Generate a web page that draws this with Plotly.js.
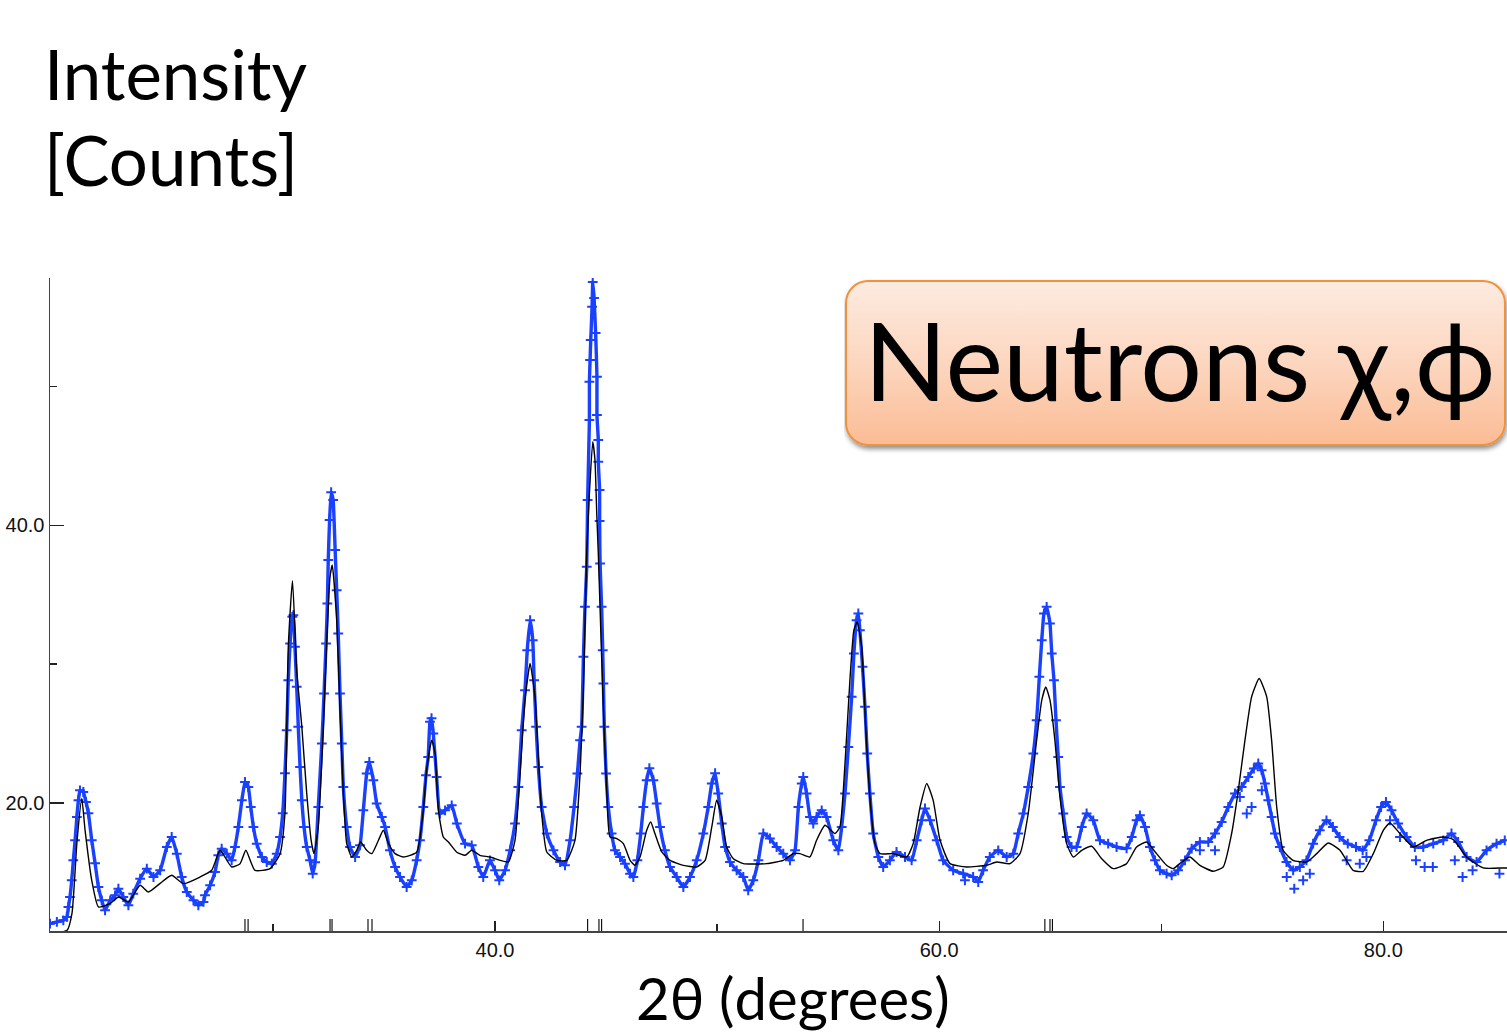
<!DOCTYPE html>
<html>
<head>
<meta charset="utf-8">
<script src="https://cdn.plot.ly/plotly-3.0.1.min.js"></script>
<style>html,body{margin:0;padding:0;background:#fff;}#chart{width:1507px;height:1034px;}</style>
</head>
<body>
<div id="chart"></div>
<script>
// Calculated profile (black line): 2theta (deg), intensity (counts)
const calcX = [20.05,20.73,20.95,21.18,21.39,21.54,21.84,22.14,22.67,23.04,23.49,24.02,24.39,24.92,25.44,25.97,26.72,27.24,27.62,28.14,28.52,28.78,29.19,29.87,30.32,30.54,30.69,30.88,31.07,31.30,31.52,31.72,31.85,32.04,32.27,32.42,32.57,32.67,32.87,33.02,33.17,33.32,33.55,33.77,33.95,34.22,34.45,34.75,34.97,35.20,35.50,35.87,36.47,36.77,36.92,37.15,37.30,37.45,37.67,37.90,38.28,38.65,38.95,39.32,39.77,40.23,40.60,40.90,41.13,41.35,41.58,41.80,41.95,42.10,42.33,42.78,43.23,43.60,43.83,43.98,44.13,44.25,44.40,44.50,44.58,44.65,44.80,44.91,45.03,45.18,45.48,45.78,46.08,46.30,46.53,46.83,47.01,47.20,47.51,47.88,48.48,49.08,49.46,49.76,49.98,50.21,50.43,50.73,51.18,52.23,52.98,53.43,53.73,54.18,54.48,54.86,55.31,55.53,55.76,55.98,56.16,56.31,56.51,56.70,56.88,57.11,57.34,57.93,58.54,58.83,59.14,59.44,59.73,60.04,60.49,61.24,62.14,62.59,63.19,63.64,64.01,64.39,64.62,64.80,64.99,65.21,65.44,65.74,66.04,66.42,66.87,67.32,67.84,68.44,68.89,69.34,69.79,70.24,70.54,70.92,71.29,71.74,72.34,72.79,73.17,73.47,73.77,74.07,74.41,74.75,74.97,75.20,75.49,75.94,76.55,77.00,77.52,78.05,78.64,79.10,79.55,80.00,80.30,80.75,81.35,81.95,82.70,83.15,83.75,84.50,85.40,85.70];
const calcY = [10.61,10.83,12.05,17.31,20.32,18.03,14.43,12.51,12.77,13.23,12.87,14.07,13.59,14.21,14.79,14.19,14.67,15.15,16.59,15.39,15.63,16.59,15.15,15.27,16.35,19.26,31.24,36.01,29.56,25.48,20.70,17.31,16.35,18.27,25.48,31.51,36.28,37.13,33.16,26.68,20.70,17.10,16.11,16.59,17.19,16.59,16.35,17.31,18.03,17.10,16.35,16.11,16.45,19.47,22.36,24.52,23.58,19.47,17.55,17.19,16.45,16.23,16.59,16.23,16.11,15.87,15.75,17.31,22.14,27.40,30.04,27.64,23.31,19.26,16.47,15.87,15.87,17.31,22.14,28.12,37.99,42.31,46.01,44.69,40.87,37.99,30.52,25.48,20.91,17.55,17.44,17.07,15.87,15.51,16.11,18.03,18.63,17.80,16.47,15.87,15.51,15.39,15.87,18.27,20.19,18.99,16.83,15.99,15.63,15.63,15.87,16.35,16.35,16.11,17.31,18.39,17.80,18.27,22.84,28.84,32.44,33.04,31.24,25.24,20.43,17.07,16.35,16.35,16.11,17.07,19.71,21.40,20.19,17.31,15.63,15.39,15.51,15.75,15.63,16.35,19.24,24.52,27.40,28.36,27.40,24.52,20.43,17.07,16.11,16.59,16.88,15.99,15.27,15.63,16.83,17.19,16.35,15.51,15.27,15.75,16.11,15.51,15.08,15.39,17.80,20.91,24.52,27.64,28.96,27.64,24.52,19.71,16.59,15.87,15.75,16.35,17.12,16.59,15.15,15.08,16.35,18.03,18.56,17.80,16.83,17.31,17.55,17.36,16.11,15.32,15.32,15.32];

// Observed data (blue crosses)
const obsX = [19.96,20.27,20.56,20.72,20.79,20.86,20.94,21.01,21.09,21.17,21.24,21.31,21.46,21.58,21.69,21.84,21.99,22.14,22.29,22.44,22.67,22.89,23.04,23.26,23.49,23.71,24.02,24.32,24.62,24.92,25.22,25.44,25.67,25.89,26.12,26.42,26.64,26.87,26.94,27.17,27.39,27.54,27.69,27.92,28.14,28.29,28.44,28.60,28.74,28.89,29.00,29.12,29.27,29.50,29.72,29.95,30.17,30.32,30.44,30.54,30.62,30.69,30.77,30.87,30.92,30.99,31.07,31.14,31.22,31.30,31.40,31.52,31.67,31.79,31.90,32.04,32.20,32.30,32.39,32.45,32.49,32.55,32.62,32.71,32.80,32.87,32.94,33.02,33.10,33.17,33.32,33.47,33.70,33.92,34.07,34.22,34.34,34.52,34.67,34.90,35.05,35.27,35.50,35.72,36.02,36.25,36.47,36.62,36.77,36.89,36.99,37.07,37.14,37.22,37.37,37.52,37.75,38.05,38.28,38.65,38.95,39.25,39.47,39.77,40.00,40.19,40.45,40.68,40.90,41.05,41.20,41.35,41.45,41.58,41.70,41.76,41.85,41.95,42.10,42.33,42.63,42.93,43.15,43.38,43.56,43.71,43.83,43.90,43.98,44.05,44.13,44.17,44.25,44.25,44.28,44.31,44.37,44.40,44.46,44.53,44.59,44.59,44.65,44.65,44.71,44.71,44.73,44.80,44.85,44.88,44.92,45.00,45.10,45.25,45.40,45.63,45.85,46.08,46.23,46.41,46.56,46.68,46.83,46.95,47.13,47.28,47.43,47.65,47.88,48.18,48.48,48.78,49.08,49.38,49.60,49.76,49.91,50.05,50.21,50.36,50.58,50.88,51.18,51.40,51.63,51.86,52.08,52.38,52.68,52.98,53.28,53.51,53.66,53.81,53.88,54.03,54.18,54.33,54.48,54.71,54.93,55.23,55.46,55.61,55.76,55.91,56.06,56.16,56.28,56.36,56.43,56.55,56.66,56.76,56.88,57.03,57.26,57.48,57.78,58.08,58.46,58.76,58.99,59.21,59.36,59.59,59.89,60.18,60.63,61.08,61.53,61.76,61.98,62.28,62.66,63.04,63.34,63.56,63.79,64.01,64.24,64.39,64.51,64.62,64.72,64.84,64.99,65.07,65.17,65.26,65.36,65.44,65.59,65.74,65.96,66.19,66.42,66.64,66.94,67.24,67.61,67.99,68.44,68.67,68.89,69.04,69.27,69.49,69.72,69.94,70.24,70.47,70.76,71.07,71.37,71.74,72.12,72.42,72.72,73.02,73.32,73.62,73.92,74.17,74.37,74.52,74.67,74.82,74.97,75.12,75.34,75.64,75.94,76.24,76.54,76.84,77.14,77.44,77.73,78.03,78.40,78.77,79.07,79.37,79.67,79.90,80.12,80.37,80.67,81.05,81.42,81.80,82.25,82.70,83.07,83.37,83.75,84.20,84.65,85.10,85.47];
const obsY = [11.31,11.43,11.55,11.79,12.51,13.23,14.43,15.87,17.31,18.99,20.19,20.91,20.79,20.07,19.26,17.31,15.66,13.95,12.99,12.27,12.99,13.35,13.83,13.23,12.63,13.47,14.55,15.27,14.67,15.15,16.83,17.55,16.35,14.67,13.59,12.99,12.63,12.87,13.35,14.07,15.03,16.23,16.71,16.35,15.87,16.83,18.27,20.19,21.51,21.15,19.71,18.27,17.07,16.11,15.75,15.63,16.35,17.55,19.26,22.14,25.24,28.84,31.48,33.40,33.52,31.24,28.36,25.48,22.59,20.19,18.27,16.83,15.87,14.91,15.73,19.71,24.28,27.88,31.48,34.37,37.49,40.37,42.38,41.81,38.21,35.32,32.20,27.88,24.28,21.15,18.27,16.83,16.11,16.95,19.47,22.12,22.95,21.64,19.96,18.99,18.27,16.59,15.39,14.67,13.95,14.43,15.87,17.31,19.71,22.00,23.31,25.84,26.10,25.00,21.87,19.24,19.47,19.83,18.52,17.07,16.95,15.39,14.67,15.87,15.15,14.43,15.15,16.59,18.52,21.15,25.24,28.12,31.00,33.16,31.72,28.84,25.48,22.59,19.71,17.80,16.59,15.75,15.51,17.31,19.71,22.12,24.52,25.48,30.52,34.12,37.00,41.81,47.57,50.33,51.89,53.34,55.73,57.51,56.36,53.84,50.69,47.93,46.13,44.57,42.53,40.30,37.25,34.12,31.00,28.60,25.48,22.12,19.71,17.80,16.59,16.11,15.63,14.91,14.67,15.87,17.80,19.71,21.64,22.50,21.64,19.96,18.27,16.59,15.39,14.67,13.95,14.67,15.87,17.80,19.71,21.40,22.14,20.68,18.52,16.83,15.75,15.15,14.67,13.71,14.43,15.87,17.80,17.44,16.83,16.35,15.87,16.59,19.71,21.40,21.87,20.68,18.99,18.52,18.99,19.47,18.99,17.31,16.59,18.27,20.68,24.03,27.64,30.76,33.16,33.65,32.44,29.80,26.92,23.56,20.68,17.80,16.11,15.39,15.87,16.47,16.11,15.87,17.31,18.75,19.60,18.75,17.31,15.87,15.15,14.91,14.67,14.31,15.15,16.11,16.59,16.11,16.35,17.80,19.24,21.15,23.56,25.96,29.08,31.72,33.65,34.12,32.93,30.76,28.84,25.96,23.31,21.15,19.24,17.55,16.83,16.83,18.27,19.24,18.75,17.31,17.07,16.83,16.74,17.55,18.75,19.11,18.27,16.83,15.87,15.15,14.91,14.79,15.15,15.87,16.71,17.19,17.19,17.80,18.63,19.71,20.68,21.15,21.87,22.48,22.84,22.36,21.40,20.19,18.99,17.80,16.83,15.75,15.15,15.39,15.87,17.07,18.03,18.75,18.27,17.55,17.07,16.83,16.59,17.31,18.75,19.71,20.07,19.47,18.52,17.55,16.83,16.83,17.07,17.31,17.80,17.19,16.11,15.75,16.59,17.07,17.31];

// Observed scatter points lying off the main band
const spreadX = [61.16,71.74,72.42,73.54,73.85,74.07,74.53,75.65,75.99,76.39,76.69,78.35,78.94,79.24,80.30,80.75,81.47,81.86,82.23,83.22,83.57,84.02,85.23];
const spreadY = [14.43,16.59,16.59,20.43,19.24,19.71,20.91,14.67,13.83,14.43,14.91,15.87,15.63,16.11,18.75,17.55,15.87,15.39,15.39,15.87,14.67,15.15,14.91];

// Bragg reflection markers along the bottom
const braggX = [28.74,28.88,32.57,32.66,34.28,34.46,44.17,44.68,44.80,53.87,64.76,64.99,65.10];
const braggY = [11.19,11.19,11.19,11.19,11.19,11.19,11.19,11.19,11.19,11.19,11.19,11.19,11.19];

const xTickVals = [40, 60, 80];
const xTickText = ['40.0', '60.0', '80.0'];
const yTickVals = [20, 40];
const yTickText = ['20.0', '40.0'];

const BLUE = 'rgb(25,65,255)';

const traces = [
  {x: obsX, y: obsY, type: 'scatter', mode: 'lines+markers', cliponaxis: true,
   line: {color: BLUE, width: 3.4, shape: 'spline', smoothing: 0.4},
   marker: {symbol: 'cross-thin', size: 7, color: BLUE, line: {color: BLUE, width: 2}}},
  {x: spreadX, y: spreadY, type: 'scatter', mode: 'markers', cliponaxis: true,
   marker: {symbol: 'cross-thin', size: 7, color: BLUE, line: {color: BLUE, width: 2}}},
  {x: calcX, y: calcY, type: 'scatter', mode: 'lines', cliponaxis: true,
   line: {color: '#000', width: 1.4, shape: 'spline', smoothing: 0.5}},
  {x: braggX, y: braggY, type: 'scatter', mode: 'markers', cliponaxis: false,
   marker: {symbol: 'line-ns', size: 9, color: '#000', line: {color: '#000', width: 1.1}}}
];

const svg = "<svg xmlns='http://www.w3.org/2000/svg' width='680' height='184' viewBox='0 0 680 184'>" +
  "<defs><linearGradient id='g' x1='0' y1='0' x2='0' y2='1'>" +
  "<stop offset='0' stop-color='#fdebe0'/><stop offset='0.5' stop-color='#fcd6bf'/><stop offset='1' stop-color='#fbbc95'/></linearGradient>" +
  "<filter id='s' x='-5%' y='-10%' width='110%' height='140%'>" +
  "<feGaussianBlur in='SourceAlpha' stdDeviation='2.5'/><feOffset dx='1' dy='3' result='o'/>" +
  "<feComponentTransfer in='o' result='t'><feFuncA type='linear' slope='0.45'/></feComponentTransfer>" +
  "<feMerge><feMergeNode in='t'/><feMergeNode in='SourceGraphic'/></feMerge></filter></defs>" +
  "<rect x='2' y='2' width='659' height='164' rx='22' ry='22' fill='url(#g)' stroke='#f0913c' stroke-width='2' filter='url(#s)'/></svg>";
const svgURI = 'data:image/svg+xml;charset=utf-8,' + encodeURIComponent(svg);

const TXT = 'Lato, "Open Sans", "Noto Sans", sans-serif';
const TICKF = {family: '"Liberation Sans", Arial, sans-serif', size: 20, color: '#111'};

const layout = {
  width: 1507, height: 1034,
  margin: {l: 50, r: 0, t: 278, b: 103, pad: 0},
  paper_bgcolor: '#fff', plot_bgcolor: '#fff',
  showlegend: false, hovermode: false,
  xaxis: {
    range: [19.96, 85.57], showgrid: false, zeroline: false,
    showline: true, linecolor: '#444', linewidth: 1.5,
    ticks: 'inside', ticklen: 10, tickwidth: 1.3, tickcolor: '#222',
    tickmode: 'array', tickvals: xTickVals, ticktext: xTickText,
    tickfont: TICKF,
    minor: {dtick: 10, tick0: 0, ticks: 'inside', ticklen: 7, tickwidth: 1.3, tickcolor: '#222', showgrid: false}
  },
  yaxis: {
    range: [10.78, 57.8], showgrid: false, zeroline: false,
    showline: true, linecolor: '#444', linewidth: 1.5,
    ticks: 'inside', ticklen: 14, tickwidth: 1.3, tickcolor: '#222',
    tickmode: 'array', tickvals: yTickVals, ticktext: yTickText,
    tickfont: TICKF,
    minor: {dtick: 10, tick0: 0, ticks: 'inside', ticklen: 7, tickwidth: 1.3, tickcolor: '#222', showgrid: false}
  },
  images: [{
    source: svgURI, xref: 'paper', yref: 'paper',
    x: (844 - 50) / 1457, y: 1 + (278 - 279) / 653,
    sizex: 680 / 1457, sizey: 184 / 653,
    xanchor: 'left', yanchor: 'top', sizing: 'stretch', layer: 'above'
  }],
  annotations: [
    {text: 'Intensity', xref: 'paper', yref: 'paper', x: 0, y: 1, xshift: -8, yshift: 205,
     xanchor: 'left', yanchor: 'middle', showarrow: false, font: {family: TXT, size: 69, color: '#000'}},
    {text: '[Counts]', xref: 'paper', yref: 'paper', x: 0, y: 1, xshift: -8, yshift: 119,
     xanchor: 'left', yanchor: 'middle', showarrow: false, font: {family: TXT, size: 69, color: '#000'}},
    {text: '2θ (degrees)', xref: 'paper', yref: 'paper', x: 0, y: 0, xshift: 743, yshift: -66,
     xanchor: 'center', yanchor: 'middle', showarrow: false, font: {family: TXT, size: 58, color: '#000'}},
    {text: 'Neutrons χ,ϕ', xref: 'paper', yref: 'paper', x: 0, y: 1, xshift: 1129, yshift: -80,
     xanchor: 'center', yanchor: 'middle', showarrow: false, font: {family: TXT, size: 109, color: '#000'}}
  ]
};

Plotly.newPlot('chart', traces, layout, {staticPlot: true, displayModeBar: false});
</script>
</body>
</html>
